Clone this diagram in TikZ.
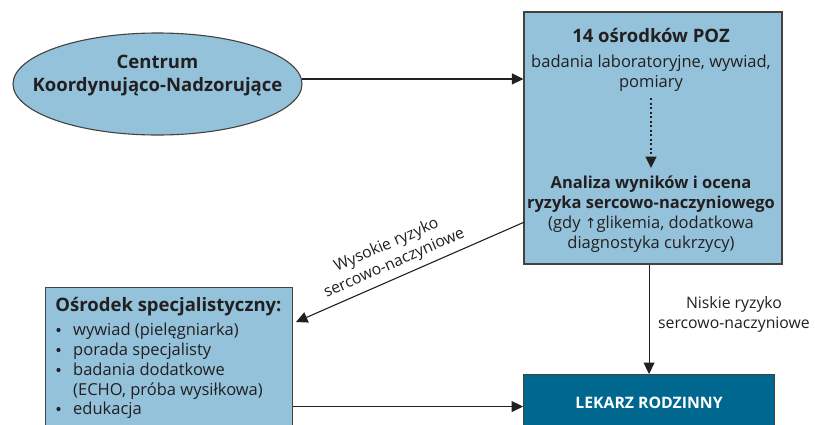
\documentclass[tikz,border=0pt]{standalone}
\usepackage{fontspec}
\setmainfont{Open Sans}
\newfontfamily\symfont{DejaVu Sans}
\usetikzlibrary{shapes.geometric,arrows.meta}
\definecolor{lblue}{HTML}{93C2DA}
\definecolor{dteal}{HTML}{00678E}
\definecolor{ink}{HTML}{231F20}
\tikzset{
  box/.style={draw=ink!85, line width=1.1pt, fill=lblue, inner sep=0pt},
  conn/.style={draw=ink, line width=1.1pt, -{Triangle[width=11pt,length=11.5pt]}},
  hd/.style={text=ink, inner sep=0pt, anchor=base, font=\fontsize{18.5}{20}\selectfont\bfseries},
  hdsm/.style={text=ink, inner sep=0pt, anchor=base, font=\fontsize{16.5}{20}\selectfont\bfseries},
  bd/.style={text=ink, inner sep=0pt, anchor=base, font=\fontsize{16.5}{20}\selectfont},
  lbl/.style={text=ink, inner sep=0pt, anchor=base, font=\fontsize{15.8}{20}\selectfont},
  itm/.style={text=ink, inner sep=0pt, anchor=base west, font=\fontsize{16.5}{20}\selectfont},
  blt/.style={fill=ink, circle, inner sep=0pt, minimum size=4.2pt},
}
\begin{document}
\begin{tikzpicture}[x=1pt,y=-1pt]
\useasboundingbox (0,0) rectangle (815,424);
\clip (0,0) rectangle (815,424);
% ellipse
\node[box, ellipse, minimum width=289pt, minimum height=102pt] (ell) at (157.5,84) {};
\node[hd] (ellA) at (157.5,68) {Centrum};
\node[hd] (ellB) at (157.5,91) {Koordynująco-Nadzorujące};
% top right box
\node[box, minimum width=258pt, minimum height=252pt] (top) at (653,138) {};
\node[hd] (t1) at (651,42) {14 ośrodków POZ};
\node[bd] (t2a) at (651,67) {badania laboratoryjne, wywiad,};
\node[bd] (t2b) at (651,87) {pomiary};
\node[hdsm] (t3a) at (651,188) {Analiza wyników i ocena};
\node[hdsm] (t3b) at (651,208) {ryzyka sercowo-naczyniowego};
\node[bd] (t4a) at (651,228) {(gdy {\symfont\fontsize{14}{14}\selectfont↑}glikemia, dodatkowa};
\node[bd] (t4b) at (651,248) {diagnostyka cukrzycy)};
\coordinate (dotA) at (651,98);
\coordinate (dotB) at (651,168);
\draw[conn, line width=1.3pt, dash pattern=on 2pt off 2.5pt] (dotA) -- (dotB);
% left box
\node[box, anchor=north west, minimum width=247pt, minimum height=200pt] (spec) at (45,287) {};
\node[hd] (specHd) at (168.5,311) {Ośrodek specjalistyczny:};
\node[blt] (b1) at (58.5,330) {};
\node[itm] (i1) at (73,335) {wywiad (pielęgniarka)};
\node[blt] (b2) at (58.5,350) {};
\node[itm] (i2) at (73,355) {porada specjalisty};
\node[blt] (b3) at (58.5,370) {};
\node[itm] (i3) at (73,375) {badania dodatkowe};
\node[itm] (i3b) at (73,395) {(ECHO, próba wysiłkowa)};
\node[blt] (b4) at (58.5,409) {};
\node[itm] (i4) at (73,414) {edukacja};
% lekarz
\node[box, fill=dteal, anchor=north west, minimum width=251pt, minimum height=64pt] (lek) at (523,374) {};
\node[text=white, inner sep=0pt, anchor=base, font=\fontsize{15.8}{16}\selectfont\bfseries] (lekTxt) at (649,408) {LEKARZ RODZINNY};
% connectors
\draw[conn] (ell.2.5) -- (ell.2.5 -| top.west);
\coordinate (hiStart) at (524.5,222);
\coordinate (hiTip) at (296,322);
\draw[conn] (hiStart) -- (hiTip);
\node[text=ink, inner sep=0pt, align=center, rotate=23.7, font=\fontsize{15.8}{19.5}\selectfont] (hiLbl) at (390.5,254.5) {Wysokie ryzyko\\sercowo-naczyniowe};
\draw[conn] (lek.north |- top.south) -- (lek.north);
\node[lbl] (loA) at (734,308) {Niskie ryzyko};
\node[lbl] (loB) at (734,328) {sercowo-naczyniowe};
\draw[conn] (spec.east |- lek.west) -- (lek.west);
\end{tikzpicture}
\end{document}
